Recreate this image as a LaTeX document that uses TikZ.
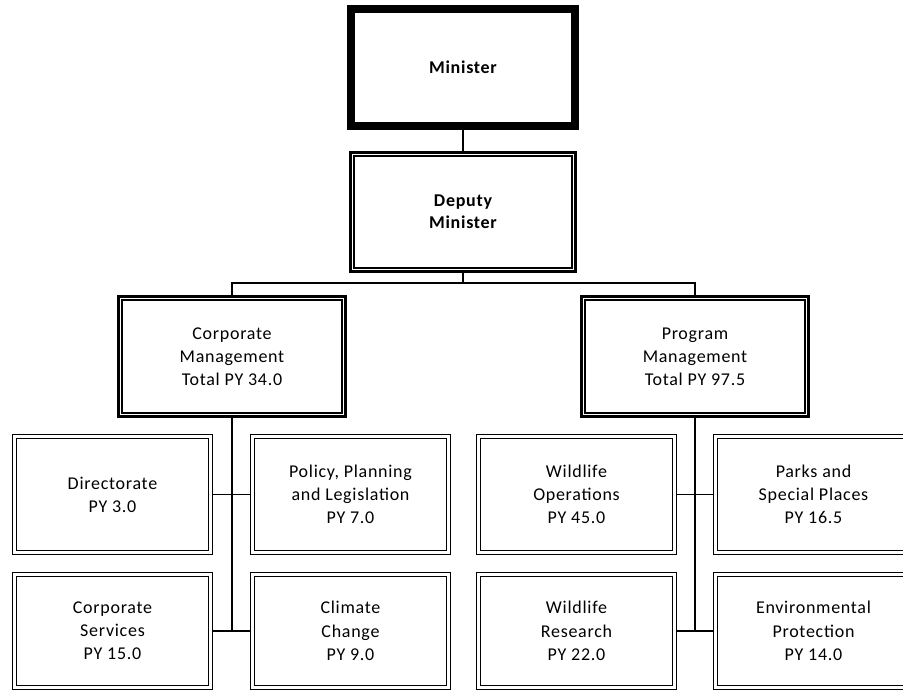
\documentclass[tikz,border=0pt]{standalone}
\usepackage{fontspec}
\setmainfont{Carlito}[LetterSpace=4]
\begin{document}
\begin{tikzpicture}[x=1pt,y=-1pt,
  base/.style={draw=black, outer sep=0pt, inner sep=0pt, align=center,
    font=\fontsize{18}{23.2}\selectfont},
  topbox/.style={base, line width=8pt, minimum width=224pt, minimum height=117pt,
    font=\fontsize{18}{23.2}\selectfont\bfseries},
  midbox/.style={base, line width=2.7pt, minimum width=#1, minimum height=119.5pt,
    path picture={\draw[line width=1.8pt]
      ([xshift=3.6pt,yshift=3.6pt]path picture bounding box.south west) rectangle
      ([xshift=-3.6pt,yshift=-3.6pt]path picture bounding box.north east);}},
  leafbox/.style={base, line width=1pt, minimum width=200pt, minimum height=#1,
    path picture={\draw[line width=1.8pt]
      ([xshift=4pt,yshift=4pt]path picture bounding box.south west) rectangle
      ([xshift=-4pt,yshift=-4pt]path picture bounding box.north east);}},
  conn/.style={line width=1.3pt},
  trunk/.style={line width=2pt}
]
\useasboundingbox (0,0) rectangle (903,691);
\clip (0,0) rectangle (903,691);
\fill[white] (0,0) rectangle (903,691);

\node[topbox] (min) at (463,67.5) {Minister};
\node[midbox=225.5pt, font=\fontsize{18}{22}\selectfont\bfseries] (dep) at (463,212) {Deputy\\Minister};

\node[midbox=227pt] (corp) at (232,356.5) {Corporate\\Management\\Total PY 34.0};
\node[midbox=227pt] (prog) at (695,356.5) {Program\\Management\\Total PY 97.5};

\node[leafbox=120pt] (dir)  at (112.5,494.5) {Directorate\\PY 3.0};
\node[leafbox=120pt] (ppl)  at (350.5,494.5) {Policy, Planning\\and Legislation\\PY 7.0};
\node[leafbox=120pt] (wo)   at (576.5,494.5) {Wildlife\\Operations\\PY 45.0};
\node[leafbox=120pt] (psp)  at (813.5,494.5) {Parks and\\Special Places\\PY 16.5};

\node[leafbox=117pt] (cs)   at (112.5,631) {Corporate\\Services\\PY 15.0};
\node[leafbox=117pt] (cc)   at (350.5,631) {Climate\\Change\\PY 9.0};
\node[leafbox=117pt] (wr)   at (576.5,631) {Wildlife\\Research\\PY 22.0};
\node[leafbox=117pt] (ep)   at (813.5,631) {Environmental\\Protection\\PY 14.0};

\coordinate (bus) at (463,283);

\draw[conn] (min.south) -- (dep.north);
\draw[conn] (dep.south) -- (bus);
\draw[conn] (corp.north) |- (bus) -| (prog.north);

\draw[trunk] (corp.south) -- (corp.south |- cs.east);
\draw[conn] (dir.east) -- (ppl.west);
\draw[conn] (cs.east) -- (cc.west);

\draw[trunk] (prog.south) -- (prog.south |- wr.east);
\draw[conn] (wo.east) -- (psp.west);
\draw[conn] (wr.east) -- (ep.west);
\end{tikzpicture}
\end{document}
